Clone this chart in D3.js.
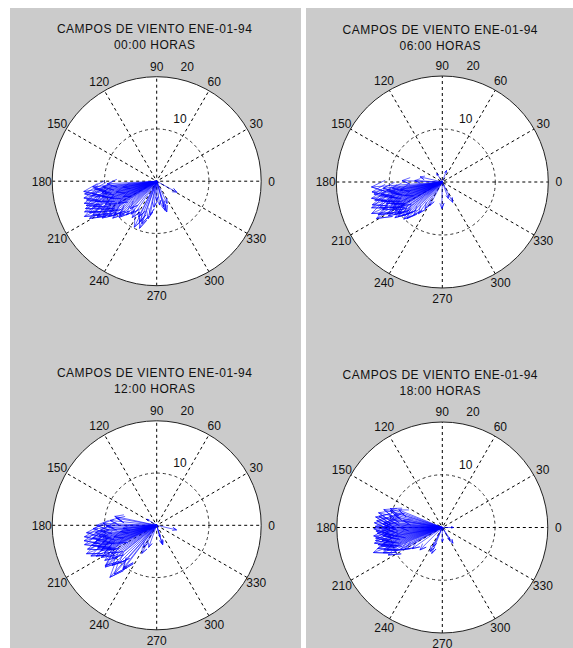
<!DOCTYPE html>
<html>
<head>
<meta charset="utf-8">
<script src="https://cdn.jsdelivr.net/npm/d3@7"></script>
<style>
  html, body { margin: 0; padding: 0; background: #ffffff; }
  svg { display: block; }
  text { font-family: "Liberation Sans", Arial, sans-serif; fill: #111; }
</style>
</head>
<body>
<div id="chart"></div>
<script>
const W = 573, H = 648;

// titles of the four panels
const titleTop = "CAMPOS DE VIENTO ENE-01-94";
const hours = ["00:00 HORAS", "06:00 HORAS", "12:00 HORAS", "18:00 HORAS"];

// polar grid ticks
const angleTicks = [0, 30, 60, 90, 120, 150, 180, 210, 240, 270, 300, 330];
const radialTicks = [10, 20];
const rMax = 20;

// wind vectors: direction (deg, math convention) and speed
const dir00 = [183, 185, 186, 187, 188, 189, 190, 191, 192, 193, 194, 195, 196, 197, 198, 199, 200, 201, 202, 203,
  204, 205, 206, 207, 208, 209, 210, 211, 212, 213, 214, 216, 218, 220, 222, 224, 226, 228, 232, 236,
  243, 244, 247, 250, 251, 257, 259, 264, 270, 277, 285, 286, 288, 295, 331, 195, 200, 205, 190, 210];
const spd00 = [9.5, 12.3, 10.4, 12.0, 14.1, 11.2, 14.0, 12.6, 10.7, 14.3, 11.5, 13.9, 10.9, 14.5, 12.4, 14.3, 11.1, 14.6, 13.1, 15.0,
  10.8, 14.2, 15.4, 11.9, 13.8, 14.7, 11.6, 13.3, 12.2, 10.8, 12.6, 11.4, 10.3, 11.0, 9.6, 10.0, 7.3, 8.7, 8.0, 8.4,
  7.7, 9.8, 8.4, 9.6, 8.6, 7.4, 6.6, 5.0, 3.7, 4.6, 5.1, 5.8, 6.2, 4.7, 4.4, 8.0, 9.5, 7.0, 6.5, 8.5];

const dir06 = [70, 123, 167, 177, 178, 184, 186, 187, 188, 189, 190, 191, 192, 193, 194, 195, 196, 197, 198, 199,
  200, 201, 202, 203, 204, 205, 206, 207, 208, 209, 210, 211, 212, 214, 215, 217, 218, 220, 222, 224,
  226, 229, 233, 237, 242, 269, 290, 297, 195, 200, 205, 190, 210];
const spd06 = [2.3, 1.9, 4.3, 5.2, 7.6, 13.4, 11.2, 9.5, 13.4, 10.6, 13.1, 11.8, 9.9, 13.7, 11.2, 13.2, 10.4, 12.1, 13.9, 10.9,
  14.2, 11.3, 12.8, 10.5, 14.6, 12.4, 11.0, 13.6, 10.6, 14.2, 11.8, 10.4, 12.0, 10.9, 10.2, 11.2, 10.6, 9.9, 9.0, 10.1,
  9.6, 8.2, 7.5, 6.0, 5.0, 5.0, 3.3, 4.3, 9.0, 7.5, 10.0, 8.0, 9.0];

const dir12 = [148, 168, 170, 174, 178, 180, 181, 183, 185, 186, 187, 189, 190, 191, 192, 193, 194, 195, 196, 197,
  198, 199, 200, 201, 202, 203, 204, 205, 206, 207, 208, 210, 212, 214, 216, 218, 219, 222, 225, 228,
  229, 232, 233, 238, 242, 250, 285, 286, 287, 347, 195, 200, 190, 205, 185];
const spd12 = [2.2, 8.2, 7.8, 9.0, 10.3, 11.5, 9.6, 12.2, 10.8, 13.5, 11.8, 14.0, 11.2, 12.5, 14.2, 10.6, 11.9, 14.3, 12.5, 13.1,
  10.9, 14.0, 12.0, 12.1, 14.5, 11.3, 11.7, 13.9, 10.6, 13.0, 11.4, 12.3, 10.2, 12.0, 10.6, 12.5, 12.7, 11.5, 10.2, 13.4,
  12.4, 10.5, 10.7, 4.9, 6.1, 4.5, 2.3, 3.6, 3.9, 3.9, 8.5, 9.8, 7.0, 8.0, 6.5];

const dir18 = [0, 158, 160, 162, 163, 165, 167, 168, 170, 171, 172, 174, 175, 176, 177, 178, 179, 180, 181, 182,
  183, 184, 185, 186, 187, 188, 189, 190, 191, 192, 193, 194, 195, 196, 197, 198, 199, 200, 201, 202,
  203, 205, 207, 208, 210, 215, 225, 243, 245, 248, 270, 300, 304, 180, 190, 170];
const spd18 = [2.1, 8.9, 10.5, 10.4, 11.6, 9.5, 12.4, 10.2, 12.2, 12.8, 10.1, 12.5, 11.0, 12.9, 11.2, 10.6, 12.7, 11.4, 13.0, 10.5,
  12.6, 11.4, 12.4, 10.8, 13.1, 11.3, 12.8, 10.4, 12.9, 11.7, 13.2, 10.9, 12.6, 11.5, 12.1, 12.9, 10.5, 13.9, 11.9, 11.3,
  12.2, 10.2, 11.5, 9.0, 8.2, 7.0, 6.0, 5.1, 4.0, 5.3, 2.7, 2.8, 3.6, 8.0, 9.0, 7.5];

const dirs = [dir00, dir06, dir12, dir18];
const spds = [spd00, spd06, spd12, spd18];

// panel layout (pixels)
const layout = [
  { cx: 156.7, cy: 181.2, R: 104.5 },
  { cx: 442.3, cy: 182.0, R: 106 },
  { cx: 156.7, cy: 525.3, R: 104.5 },
  { cx: 442.3, cy: 527.5, R: 105.5 }
];

const svg = d3.select("#chart").append("svg")
  .attr("width", W)
  .attr("height", H);

// gray figure backgrounds, two columns with a white gap
svg.append("rect").attr("x", 10).attr("y", 8).attr("width", 291).attr("height", H - 8).attr("fill", "#cbcbcb");
svg.append("rect").attr("x", 306).attr("y", 8).attr("width", W - 306).attr("height", H - 8).attr("fill", "#cbcbcb");

const toRad = d => d * Math.PI / 180;

layout.forEach((p, i) => {
  const x = d3.scaleLinear().domain([-rMax, rMax]).range([p.cx - p.R, p.cx + p.R]);
  const y = d3.scaleLinear().domain([-rMax, rMax]).range([p.cy + p.R, p.cy - p.R]);
  const r = d3.scaleLinear().domain([0, rMax]).range([0, p.R]);
  const g = svg.append("g");

  // white disk
  g.append("circle").attr("cx", x(0)).attr("cy", y(0)).attr("r", r(rMax)).attr("fill", "#ffffff");

  // dashed inner rings
  g.selectAll(".ring")
    .data(radialTicks.filter(t => t < rMax))
    .enter().append("circle")
    .attr("cx", x(0)).attr("cy", y(0))
    .attr("r", d => r(d))
    .attr("fill", "none")
    .attr("stroke", "#333")
    .attr("stroke-width", 1)
    .attr("stroke-dasharray", "3,3");

  // spokes across the full diameter
  g.selectAll(".spoke")
    .data(angleTicks.filter(a => a < 180))
    .enter().append("line")
    .attr("x1", a => x(-rMax * Math.cos(toRad(a))))
    .attr("y1", a => y(-rMax * Math.sin(toRad(a))))
    .attr("x2", a => x(rMax * Math.cos(toRad(a))))
    .attr("y2", a => y(rMax * Math.sin(toRad(a))))
    .attr("stroke", "#000")
    .attr("stroke-width", 1)
    .attr("stroke-dasharray", "3,3");

  // outer ring
  g.append("circle").attr("cx", x(0)).attr("cy", y(0)).attr("r", r(rMax))
    .attr("fill", "none").attr("stroke", "#222").attr("stroke-width", 1);

  // angle labels at 1.1 rmax
  g.selectAll(".alab")
    .data(angleTicks)
    .enter().append("text")
    .attr("x", a => x(1.1 * rMax * Math.cos(toRad(a))))
    .attr("y", a => y(1.1 * rMax * Math.sin(toRad(a))))
    .attr("dy", "0.36em")
    .attr("text-anchor", "middle")
    .attr("font-size", 12)
    .text(a => a);

  // radial labels at 82 degrees
  g.selectAll(".rlab")
    .data(radialTicks)
    .enter().append("text")
    .attr("x", d => x((d + 0.5) * Math.cos(toRad(82))) + 9)
    .attr("y", d => y((d + 0.5) * Math.sin(toRad(82))) - 4)
    .attr("font-size", 12)
    .text(d => d);

  // compass arrows
  const vecs = dirs[i].map((a, k) => ({
    u: spds[i][k] * Math.cos(toRad(a)),
    v: spds[i][k] * Math.sin(toRad(a))
  }));
  const shape = [[0, 0], [1, 0], [0.8, 0.08], [1, 0], [0.8, -0.08]];
  const line = d3.line().x(d => x(d[0])).y(d => y(d[1]));
  g.selectAll(".arrow")
    .data(vecs)
    .enter().append("path")
    .attr("d", d => line(shape.map(s => [s[0] * d.u - s[1] * d.v, s[0] * d.v + s[1] * d.u])))
    .attr("fill", "none")
    .attr("stroke", "#0000ff")
    .attr("stroke-width", 0.6);

  // title
  const t = g.append("text")
    .attr("text-anchor", "middle")
    .attr("font-size", 12)
    .attr("letter-spacing", "0.5px");
  t.append("tspan").attr("x", p.cx - 2).attr("y", p.cy - 148.5).text(titleTop);
  t.append("tspan").attr("x", p.cx - 2).attr("y", p.cy - 132.5).text(hours[i]);
});
</script>
</body>
</html>
